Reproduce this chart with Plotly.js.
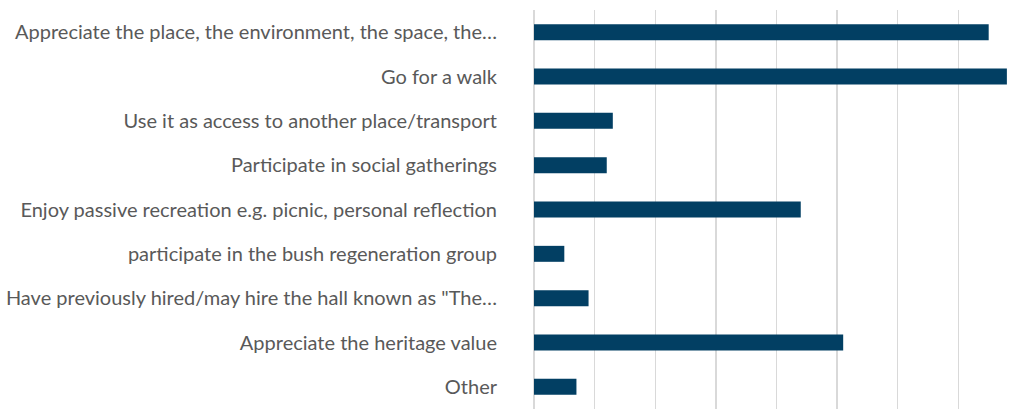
<!DOCTYPE html>
<html>
<head>
<meta charset="utf-8">
<script src="https://cdn.plot.ly/plotly-3.0.1.min.js"></script>
<style>html,body{margin:0;padding:0;background:#fff;}#chart{width:1026px;height:409px;}</style>
</head>
<body>
<div id="chart"></div>
<script>
const categories = [
  "Appreciate the place, the environment, the space, the…",
  "Go for a walk",
  "Use it as access to another place/transport",
  "Participate in social gatherings",
  "Enjoy passive recreation e.g. picnic, personal reflection",
  "participate in the bush regeneration group",
  "Have previously hired/may hire the hall known as \"The…",
  "Appreciate the heritage value",
  "Other"
];
const values = [75, 78, 13, 12, 44, 5, 9, 51, 7];

const trace = {
  type: "bar",
  orientation: "h",
  y: categories,
  x: values,
  marker: {color: "#023F63", line: {width: 0}},
  hoverinfo: "x+y"
};

const layout = {
  width: 1026,
  height: 409,
  margin: {l: 534, r: 7, t: 10, b: 0, pad: 0},
  paper_bgcolor: "#ffffff",
  plot_bgcolor: "#ffffff",
  showlegend: false,
  bargap: 0.64,
  font: {family: "Lato, 'Open Sans', sans-serif", size: 20, color: "#595959"},
  xaxis: {
    range: [0, 80],
    dtick: 10,
    showticklabels: false,
    showgrid: true,
    gridcolor: "#d9d9d9",
    gridwidth: 1.3,
    zeroline: true,
    zerolinecolor: "#d9d9d9",
    zerolinewidth: 1.3,
    showline: false,
    fixedrange: true
  },
  yaxis: {
    autorange: "reversed",
    type: "category",
    showgrid: false,
    zeroline: false,
    showline: false,
    ticks: "",
    ticklabelstandoff: 36,
    tickfont: {family: "Lato, 'Open Sans', sans-serif", size: 20, color: "#595959"},
    fixedrange: true
  }
};

Plotly.newPlot("chart", [trace], layout, {displayModeBar: false, staticPlot: true});
</script>
</body>
</html>
